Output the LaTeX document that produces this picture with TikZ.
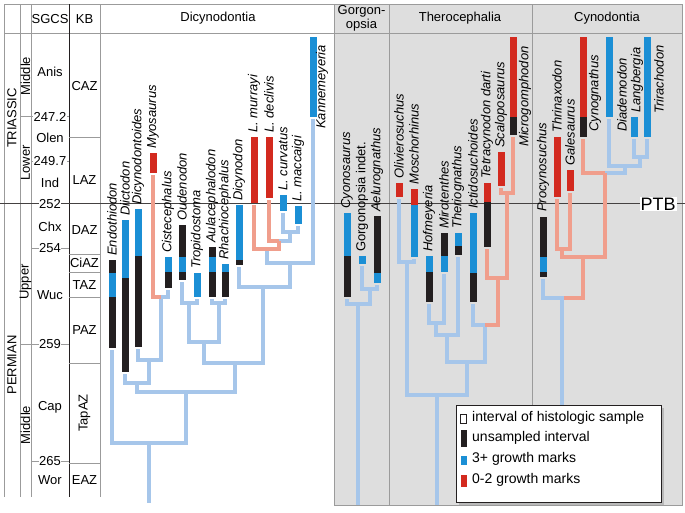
\documentclass[tikz,border=0pt]{standalone}
\usepackage{fontspec}
\setmainfont{Liberation Sans}
\setsansfont{Liberation Sans}
\usepackage{tikz}
\usepackage{xcolor}
\usetikzlibrary{arrows.meta,calc,positioning}
\definecolor{BarBlue}{HTML}{1B8FD5}
\definecolor{BarRed}{HTML}{D32A1F}
\definecolor{BarBlack}{HTML}{231F20}
\definecolor{TreeBlue}{HTML}{A6C6EA}
\definecolor{TreeRose}{HTML}{F09E8C}
\definecolor{PanelGray}{HTML}{DEDEDE}
\definecolor{RuleGray}{HTML}{9B9B9B}
\tikzset{
  bluebar/.style={draw=BarBlue, line width=7pt},
  redbar/.style={draw=BarRed, line width=7pt},
  blackbar/.style={draw=BarBlack, line width=7pt},
  treeline/.style={draw=TreeBlue, line width=4pt},
  roseline/.style={draw=TreeRose, line width=4pt},
  rule/.style={draw=RuleGray, line width=0.6pt},
  taxon/.style={rotate=90, anchor=west, inner sep=1pt, font=\fontsize{13}{15}\selectfont\itshape},
  uptaxon/.style={rotate=90, anchor=west, inner sep=1pt, font=\fontsize{13}{15}\selectfont},
  scaletext/.style={inner sep=1pt, font=\fontsize{13}{15}\selectfont},
  scaleturn/.style={rotate=90, inner sep=1pt, font=\fontsize{13}{15}\selectfont},
  agetext/.style={fill=white, inner sep=0.5pt, font=\fontsize{13}{15}\selectfont},
  cladehead/.style={align=center, inner sep=1pt, font=\fontsize{13}{14}\selectfont},
  keytext/.style={anchor=west, inner sep=1pt, font=\fontsize{14}{16}\selectfont}
}

\begin{document}
\begin{tikzpicture}[x=1pt,y=-1pt]
  \useasboundingbox[fill=white] (0,0) rectangle (685,512);
  % panels and grid
  \draw[rule, fill=PanelGray] (334,4) rectangle (682,505);
  \draw[rule] (389,4) -- (389,505);
  \draw[rule] (532,4) -- (532,505);
  \draw[rule] (4,4) -- (682,4);
  \draw[rule] (4,33) -- (682,33);
  \foreach \xx in {4,20,31,100} \draw[rule] (\xx,4) -- (\xx,497);
  \draw[draw=BarBlack, line width=0.8pt] (69,4) -- (69,497);
  \draw[rule] (20,116) -- (69,116);
  \draw[rule] (20,344) -- (69,344);
  \foreach \yy in {161,248,461} \draw[rule] (31,\yy) -- (69,\yy);
  \foreach \yy in {137,254,272,297,363,463} \draw[rule] (69,\yy) -- (100,\yy);
  \draw[draw=BarBlack!85, line width=0.9pt] (0,203) -- (685,203);
  \node[fill=white, inner sep=1pt, font=\fontsize{18}{20}\selectfont] (ptb) at (658,204) {PTB};

  % time scale
  \node[scaletext] (sgcs) at (50,19) {SGCS};
  \node[scaletext] (kb) at (84.5,19) {KB};
  \node[scaleturn] (trias) at (12,118) {TRIASSIC};
  \node[scaleturn] (perm) at (12,365) {PERMIAN};
  \node[scaleturn] (tmid) at (25.5,76) {Middle};
  \node[scaleturn] (tlow) at (25.5,163) {Lower};
  \node[scaleturn] (pup) at (25.5,282) {Upper};
  \node[scaleturn] (pmid) at (25.5,425) {Middle};
  \node[scaletext] (anis) at (50,72) {Anis};
  \node[agetext] (a2472) at (50,117) {247.2};
  \node[scaletext] (olen) at (50,138) {Olen};
  \node[agetext] (a2497) at (50,161) {249.7};
  \node[scaletext] (ind) at (50,183) {Ind};
  \node[agetext] (a252) at (50,204) {252};
  \node[scaletext] (chx) at (50,227) {Chx};
  \node[agetext] (a254) at (50,248) {254};
  \node[scaletext] (wuc) at (50,295) {Wuc};
  \node[agetext] (a259) at (50,344) {259};
  \node[scaletext] (cap) at (50,407) {Cap};
  \node[agetext] (a265) at (50,461) {265};
  \node[scaletext] (wor) at (50,480) {Wor};
  \node[scaletext] (caz) at (84.5,86) {CAZ};
  \node[scaletext] (laz) at (84.5,180) {LAZ};
  \node[scaletext] (daz) at (84.5,230) {DAZ};
  \node[scaletext] (ciaz) at (84.5,263) {CiAZ};
  \node[scaletext] (taz) at (84.5,285) {TAZ};
  \node[scaletext] (paz) at (84.5,330) {PAZ};
  \node[scaleturn] (tapaz) at (84.5,413) {TapAZ};
  \node[scaletext] (eaz) at (84.5,480) {EAZ};

  % clade headers
  \node[cladehead] (dicy) at (218,18) {Dicynodontia};
  \node[cladehead] (gorg) at (361.5,18) {Gorgon-\\opsia};
  \node[cladehead] (thero) at (460,18) {Therocephalia};
  \node[cladehead] (cyno) at (607,18) {Cynodontia};

  % Dicynodontia tree
  \draw[treeline] (112,350) -- (112,443) -- (186,443) -- (186,392);
  \draw[treeline] (149,443) -- (149,503);
  \draw[treeline] (125,374) -- (125,383) -- (149,383) -- (149,360);
  \draw[treeline] (138,349) -- (138,360) -- (161,360) -- (161,297);
  \draw[roseline] (153,175) -- (153,297) -- (161,297);
  \draw[treeline] (161,297) -- (168,297) -- (168,290);
  \draw[treeline] (137,383) -- (137,392) -- (235,392) -- (235,363);
  \draw[treeline] (182,282) -- (182,303) -- (197,303) -- (197,299);
  \draw[treeline] (189,303) -- (189,342) -- (219,342) -- (219,303);
  \draw[treeline] (212,299) -- (212,303) -- (225,303) -- (225,299);
  \draw[treeline] (204,342) -- (204,363) -- (263,363) -- (263,287);
  \draw[treeline] (239,267) -- (239,287) -- (290,287) -- (290,263);
  \draw[treeline] (267,249) -- (267,263) -- (313,263) -- (313,119);
  \draw[treeline] (283,213) -- (283,232) -- (298,232) -- (298,226);
  \draw[treeline] (290,232) -- (290,241) -- (279,241);
  \draw[roseline] (279,241) -- (269,241) -- (269,200);
  \draw[roseline] (254,205) -- (254,249) -- (279,249) -- (279,241);

  % Dicynodontia ranges
  \draw[blackbar] (112,260) -- (112,273);
  \draw[bluebar] (112,273) -- (112,297);
  \draw[blackbar] (112,297) -- (112,348);
  \draw[bluebar] (125,220) -- (125,278);
  \draw[blackbar] (125,278) -- (125,372);
  \draw[bluebar] (138,209) -- (138,256);
  \draw[blackbar] (138,256) -- (138,347);
  \draw[redbar] (153,153) -- (153,173);
  \draw[bluebar] (168,257) -- (168,272);
  \draw[blackbar] (168,272) -- (168,288);
  \draw[blackbar] (182,225) -- (182,257);
  \draw[bluebar] (182,257) -- (182,272);
  \draw[blackbar] (182,272) -- (182,280);
  \draw[bluebar] (197,273) -- (197,297);
  \draw[blackbar] (212,247) -- (212,257);
  \draw[bluebar] (212,257) -- (212,272);
  \draw[blackbar] (212,272) -- (212,297);
  \draw[bluebar] (225,264) -- (225,272);
  \draw[blackbar] (225,272) -- (225,297);
  \draw[bluebar] (239,205) -- (239,260);
  \draw[blackbar] (239,260) -- (239,265);
  \draw[redbar] (254,137) -- (254,203);
  \draw[redbar] (269,137) -- (269,198);
  \draw[bluebar] (283,195) -- (283,211);
  \draw[bluebar] (298,206) -- (298,224);
  \draw[bluebar] (313,37) -- (313,117);

  \node[taxon] (endo) at (112,257) {Endothiodon};
  \node[taxon] (diic) at (125,217) {Diictodon};
  \node[taxon] (dnoid) at (138,206) {Dicynodontoides};
  \node[taxon] (myos) at (153,150) {Myosaurus};
  \node[taxon] (cist) at (168,254) {Cistecephalus};
  \node[taxon] (oude) at (182,222) {Oudenodon};
  \node[taxon] (trop) at (197,270) {Tropidostoma};
  \node[taxon] (aula) at (212,244) {Aulacephalodon};
  \node[taxon] (rhac) at (225,261) {Rhachiocephalus};
  \node[taxon] (dicn) at (239,202) {Dicynodon};
  \node[taxon] (lmur) at (254,134) {L. murrayi};
  \node[taxon] (ldec) at (269,134) {L. declivis};
  \node[taxon] (lcur) at (283,192) {L. curvatus};
  \node[taxon] (lmac) at (298,203) {L. maccaigi};
  \node[taxon] (kann) at (322,130) {Kannemeyeria};

  % Gorgonopsia
  \draw[treeline] (347,299) -- (347,304) -- (370,304) -- (370,289);
  \draw[treeline] (362,266) -- (362,289) -- (377,289) -- (377,285);
  \draw[treeline] (358,304) -- (358,505);
  \draw[bluebar] (347,213) -- (347,256);
  \draw[blackbar] (347,256) -- (347,297);
  \draw[bluebar] (362,256) -- (362,264);
  \draw[blackbar] (377,216) -- (377,273);
  \draw[bluebar] (377,273) -- (377,283);
  \node[taxon] (cyon) at (347,210) {Cyonosaurus};
  \node[uptaxon] (gind) at (362,253) {Gorgonopsia indet.};
  \node[taxon] (aelu) at (377,213) {Aelurognathus};

  % Therocephalia
  \draw[treeline] (399,199) -- (399,262) -- (414,262) -- (414,259);
  \draw[treeline] (407,262) -- (407,395) -- (467,395) -- (467,362);
  \draw[treeline] (437,395) -- (437,505);
  \draw[treeline] (429,304) -- (429,323) -- (444,323) -- (444,274);
  \draw[treeline] (436,323) -- (436,335) -- (458,335) -- (458,257);
  \draw[treeline] (447,335) -- (447,362) -- (485,362) -- (485,325);
  \draw[treeline] (473,304) -- (473,325) -- (485,325);
  \draw[roseline] (485,325) -- (498,325) -- (498,278);
  \draw[roseline] (487,249) -- (487,278) -- (507,278) -- (507,193);
  \draw[roseline] (501,188) -- (501,193) -- (513,193) -- (513,137);
  \draw[redbar] (399,183) -- (399,197);
  \draw[redbar] (414,189) -- (414,205);
  \draw[bluebar] (414,205) -- (414,257);
  \draw[bluebar] (429,256) -- (429,272);
  \draw[blackbar] (429,272) -- (429,302);
  \draw[blackbar] (444,233) -- (444,256);
  \draw[bluebar] (444,256) -- (444,272);
  \draw[bluebar] (458,233) -- (458,246);
  \draw[blackbar] (458,246) -- (458,255);
  \draw[bluebar] (473,213) -- (473,273);
  \draw[blackbar] (473,273) -- (473,302);
  \draw[redbar] (487,183) -- (487,202);
  \draw[blackbar] (487,202) -- (487,247);
  \draw[redbar] (501,152) -- (501,186);
  \draw[redbar] (513,37) -- (513,117);
  \draw[blackbar] (513,117) -- (513,135);
  \node[taxon] (oliv) at (399,180) {Olivierosuchus};
  \node[taxon] (mosc) at (414,186) {Moschorhinus};
  \node[taxon] (hofm) at (429,253) {Hofmeyeria};
  \node[taxon] (miro) at (444,230) {Mirotenthes};
  \node[taxon] (ther) at (458,230) {Theriognathus};
  \node[taxon] (icti) at (473,210) {Ictidosuchoides};
  \node[taxon] (tetr) at (487,180) {Tetracynodon darti};
  \node[taxon] (scal) at (501,149) {Scaloposaurus};
  \node[taxon] (micr) at (525,148) {Microgomphodon};

  % Cynodontia
  \draw[treeline] (634,139) -- (634,157) -- (647,157) -- (647,139);
  \draw[treeline] (640,157) -- (640,166) -- (609,166) -- (609,119);
  \draw[treeline] (625,166) -- (625,173) -- (605,173);
  \draw[roseline] (605,173) -- (583,173) -- (583,139);
  \draw[roseline] (605,173) -- (605,257) -- (562,257) -- (562,249);
  \draw[roseline] (557,199) -- (557,249) -- (570,249) -- (570,193);
  \draw[roseline] (583,257) -- (583,298) -- (562,298);
  \draw[treeline] (564,298) -- (543,298) -- (543,279);
  \draw[treeline] (562,298) -- (562,505);
  \draw[blackbar] (543,217) -- (543,257);
  \draw[bluebar] (543,257) -- (543,272);
  \draw[blackbar] (543,272) -- (543,277);
  \draw[redbar] (557,137) -- (557,197);
  \draw[redbar] (570,170) -- (570,191);
  \draw[redbar] (583,37) -- (583,117);
  \draw[blackbar] (583,117) -- (583,137);
  \draw[bluebar] (609,37) -- (609,117);
  \draw[bluebar] (634,117) -- (634,137);
  \draw[bluebar] (647,37) -- (647,137);
  \node[taxon] (proc) at (543,213) {Procynosuchus};
  \node[taxon] (thri) at (557,134) {Thrinaxodon};
  \node[taxon] (gale) at (570,167) {Galesaurus};
  \node[taxon] (cygn) at (595,133) {Cynognathus};
  \node[taxon] (diad) at (622,133) {Diademodon};
  \node[taxon] (lang) at (637,114) {Langbergia};
  \node[taxon] (trir) at (659,115) {Trirachodon};

  % key
  \fill[gray!55] (459,408) rectangle (664,505);
  \draw[draw=BarBlack, line width=1pt, fill=white] (456,405) rectangle (661,502);
  \draw[draw=BarBlack, line width=1pt] (460,414) rectangle (466,423);
  \fill[BarBlack] (461,430) rectangle (467,447);
  \fill[BarBlue] (461,456) rectangle (467,465);
  \fill[BarRed] (461,475) rectangle (467,487);
  \node[keytext] (k1) at (471,418) {interval of histologic sample};
  \node[keytext] (k2) at (471,438) {unsampled interval};
  \node[keytext] (k3) at (471,459) {3+ growth marks};
  \node[keytext] (k4) at (471,480) {0-2 growth marks};
\end{tikzpicture}
\end{document}
